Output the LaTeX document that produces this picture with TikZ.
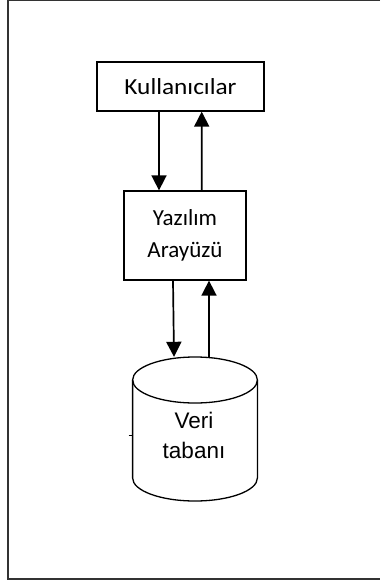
\documentclass[tikz,border=0pt]{standalone}
\usepackage{fontspec}
\newfontfamily\calfont{Carlito}
\newfontfamily\calwide[FakeStretch=1.1]{Carlito}
\newfontfamily\arfont{Liberation Sans}
\usetikzlibrary{arrows.meta}
\begin{document}
\begin{tikzpicture}[x=1bp,y=-1bp,
  box/.style={draw, line width=1.3bp, inner sep=0pt, align=center,
    font=\calfont\fontsize{23bp}{31.5bp}\selectfont},
  shapeline/.style={line width=1.3bp},
  arr/.style={line width=1.7bp, -{Triangle[width=15bp,length=15bp]}},
  frameline/.style={line width=1.5bp, black!80},
  dbtext/.style={inner sep=0pt, align=center,
    font=\arfont\fontsize{22.5bp}{30bp}\selectfont}]
\useasboundingbox (0,0) rectangle (380,584);
\draw[frameline] (380,0.75) -- (8,0.75) -- (8,579) -- (380,579);
\node[box, minimum width=167bp, minimum height=49bp, font=\calwide\fontsize{23bp}{31.5bp}\selectfont] (ku) at (180.5,86.5) {Kullanıcılar};
\node[box, minimum width=122bp, minimum height=89bp] (ya) at (185,235.5) {Yazılım\\Arayüzü};
% cylinder
\node[inner sep=0pt, minimum width=125bp, minimum height=144bp] (db) at (195,429) {};
\draw[shapeline] (195,380) ellipse [x radius=62.4, y radius=23];
\draw[shapeline] (132.6,380) -- (132.6,478) arc[start angle=180, end angle=0, x radius=62.4, y radius=23] -- (257.4,380);
\draw[line width=1bp] (128.5,435) -- (132.6,435);
\node[dbtext] (dbt) at (194,435) {Veri\\tabanı};
% connectors
\draw[arr] ([xshift=-21.5bp]ku.south) -- ([xshift=-26bp]ya.north);
\draw[arr] ([xshift=16.7bp]ya.north) -- ([xshift=21.2bp]ku.south);
\draw[arr] ([xshift=-12bp]ya.south) -- ([xshift=-21bp]db.north);
\draw[arr] ([xshift=14bp]db.north) -- ([xshift=24bp]ya.south);
\end{tikzpicture}
\end{document}
